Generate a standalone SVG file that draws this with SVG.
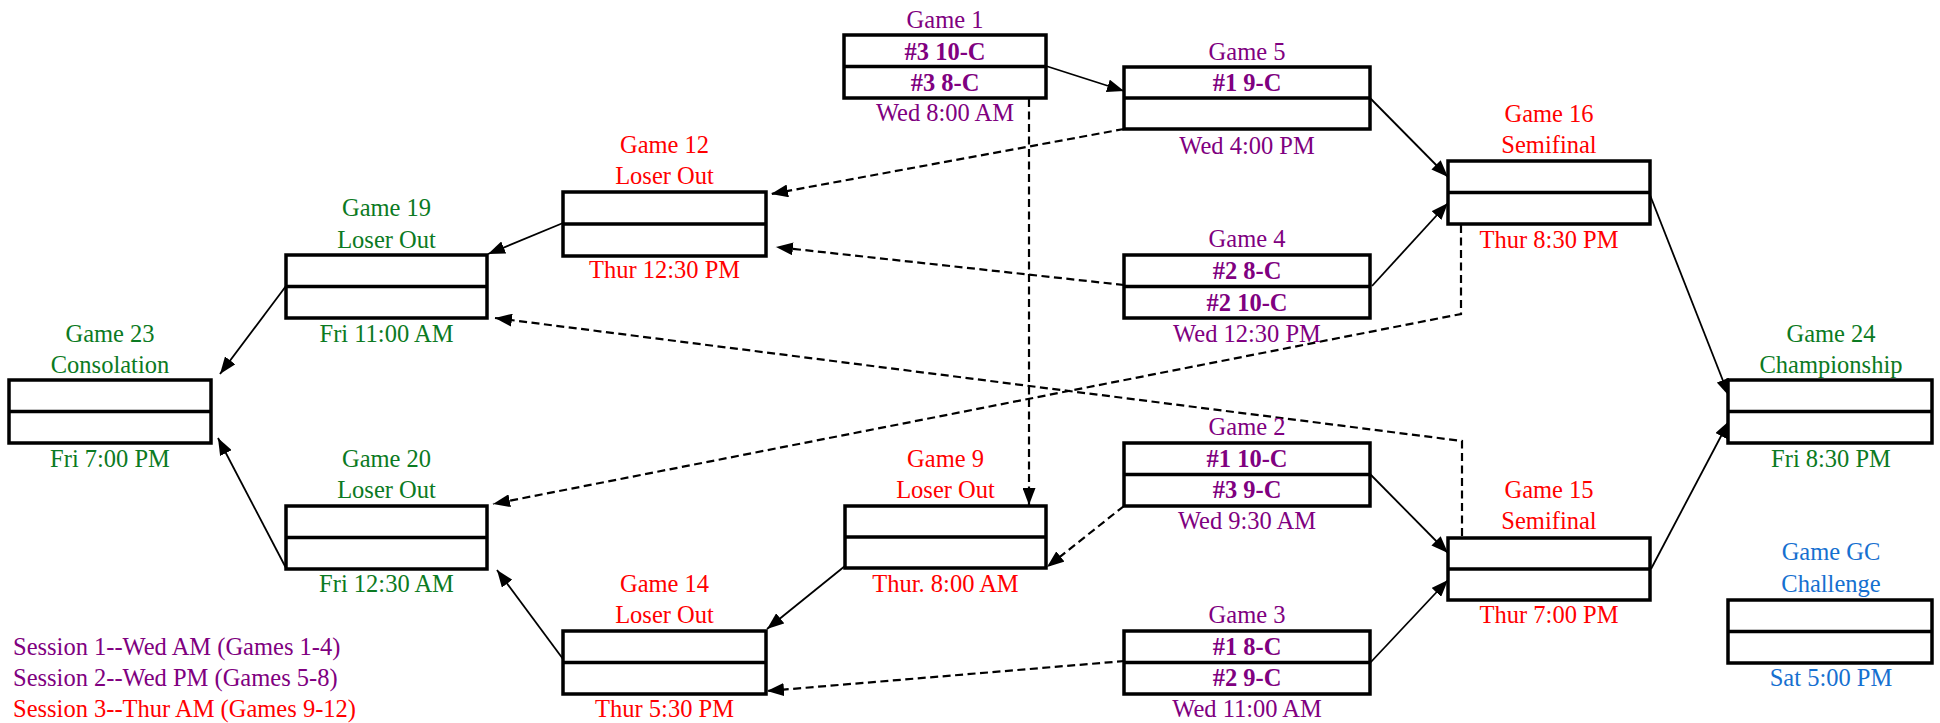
<svg xmlns="http://www.w3.org/2000/svg" width="1940" height="723" viewBox="0 0 1940 723">
<style>
text{font-family:"Liberation Serif","Times New Roman",serif;font-size:24.5px;text-anchor:middle}
.b{font-weight:bold}
.p{fill:#800080}.r{fill:#FF0000}.g{fill:#0B7A22}.bl{fill:#1670D0}
.box{fill:#fff;stroke:#000;stroke-width:3.5}
.dv{stroke:#000;stroke-width:3.5}
.c{fill:none;stroke:#000;stroke-width:1.8}
.d{fill:none;stroke:#000;stroke-width:2.2;stroke-dasharray:8 4.5}
.s{text-anchor:start}
</style>
<defs>
<marker id="ah" viewBox="0 0 17 13" refX="17" refY="6.5" markerWidth="17" markerHeight="13" markerUnits="userSpaceOnUse" orient="auto">
<path d="M0,0 L17,6.5 L0,13 z" fill="#000"/>
</marker>
</defs>
<rect width="1940" height="723" fill="#fff"/>
<g id="connectors">
<line class="c" x1="1046" y1="66" x2="1124" y2="91" marker-end="url(#ah)"/>
<line class="c" x1="1370" y1="98" x2="1448" y2="177" marker-end="url(#ah)"/>
<line class="c" x1="1372" y1="286" x2="1448" y2="203" marker-end="url(#ah)"/>
<line class="c" x1="1650" y1="195" x2="1729" y2="396" marker-end="url(#ah)"/>
<line class="c" x1="1651" y1="569" x2="1729" y2="421" marker-end="url(#ah)"/>
<line class="c" x1="1370" y1="474" x2="1448" y2="553" marker-end="url(#ah)"/>
<line class="c" x1="1370" y1="663" x2="1448" y2="580" marker-end="url(#ah)"/>
<line class="c" x1="563" y1="223" x2="488" y2="254" marker-end="url(#ah)"/>
<line class="c" x1="286" y1="286" x2="220" y2="374" marker-end="url(#ah)"/>
<line class="c" x1="286" y1="568" x2="218" y2="438" marker-end="url(#ah)"/>
<line class="c" x1="563" y1="659" x2="497" y2="570" marker-end="url(#ah)"/>
<line class="c" x1="845" y1="566" x2="767" y2="629" marker-end="url(#ah)"/>
<line class="d" x1="1124" y1="129" x2="771" y2="194" marker-end="url(#ah)"/>
<line class="d" x1="1124" y1="285" x2="776" y2="247" marker-end="url(#ah)"/>
<line class="d" x1="1029" y1="99" x2="1029" y2="505" marker-end="url(#ah)"/>
<polyline class="d" points="1461,225 1461,314 493,504" marker-end="url(#ah)"/>
<polyline class="d" points="1462,536 1462,441 495,318" marker-end="url(#ah)"/>
<line class="d" x1="1124" y1="506" x2="1047" y2="567" marker-end="url(#ah)"/>
<line class="d" x1="1125" y1="661" x2="767" y2="691" marker-end="url(#ah)"/>
</g>
<g id="game1">
<rect class="box" x="844" y="35" width="202" height="63"/><line class="dv" x1="844" y1="66.5" x2="1046" y2="66.5"/>
<text class="p" x="945" y="28">Game 1</text>
<text class="p b" x="945" y="60">#3 10-C</text>
<text class="p b" x="945" y="91">#3 8-C</text>
<text class="p" x="945" y="121">Wed 8:00 AM</text>
</g>
<g id="game5">
<rect class="box" x="1124" y="67" width="246" height="62"/><line class="dv" x1="1124" y1="98" x2="1370" y2="98"/>
<text class="p" x="1247" y="60">Game 5</text>
<text class="p b" x="1247" y="91">#1 9-C</text>
<text class="p" x="1247" y="154">Wed 4:00 PM</text>
</g>
<g id="game16">
<rect class="box" x="1448" y="161" width="202" height="63"/><line class="dv" x1="1448" y1="192.5" x2="1650" y2="192.5"/>
<text class="r" x="1549" y="122">Game 16</text>
<text class="r" x="1549" y="153">Semifinal</text>
<text class="r" x="1549" y="248">Thur 8:30 PM</text>
</g>
<g id="game4">
<rect class="box" x="1124" y="255" width="246" height="63"/><line class="dv" x1="1124" y1="286.5" x2="1370" y2="286.5"/>
<text class="p" x="1247" y="247">Game 4</text>
<text class="p b" x="1247" y="279">#2 8-C</text>
<text class="p b" x="1247" y="311">#2 10-C</text>
<text class="p" x="1247" y="342">Wed 12:30 PM</text>
</g>
<g id="game12">
<rect class="box" x="563" y="192" width="203" height="64"/><line class="dv" x1="563" y1="224" x2="766" y2="224"/>
<text class="r" x="664.5" y="153">Game 12</text>
<text class="r" x="664.5" y="184">Loser Out</text>
<text class="r" x="664.5" y="278">Thur 12:30 PM</text>
</g>
<g id="game19">
<rect class="box" x="286" y="255" width="201" height="63"/><line class="dv" x1="286" y1="286.5" x2="487" y2="286.5"/>
<text class="g" x="386.5" y="216">Game 19</text>
<text class="g" x="386.5" y="248">Loser Out</text>
<text class="g" x="386.5" y="342">Fri 11:00 AM</text>
</g>
<g id="game23">
<rect class="box" x="9" y="380" width="202" height="63"/><line class="dv" x1="9" y1="411.5" x2="211" y2="411.5"/>
<text class="g" x="110" y="342">Game 23</text>
<text class="g" x="110" y="373">Consolation</text>
<text class="g" x="110" y="467">Fri 7:00 PM</text>
</g>
<g id="game20">
<rect class="box" x="286" y="506" width="201" height="63"/><line class="dv" x1="286" y1="537.5" x2="487" y2="537.5"/>
<text class="g" x="386.5" y="467">Game 20</text>
<text class="g" x="386.5" y="498">Loser Out</text>
<text class="g" x="386.5" y="592">Fri 12:30 AM</text>
</g>
<g id="game14">
<rect class="box" x="563" y="631" width="203" height="63"/><line class="dv" x1="563" y1="662.5" x2="766" y2="662.5"/>
<text class="r" x="664.5" y="592">Game 14</text>
<text class="r" x="664.5" y="623">Loser Out</text>
<text class="r" x="664.5" y="717">Thur 5:30 PM</text>
</g>
<g id="game9">
<rect class="box" x="845" y="506" width="201" height="62"/><line class="dv" x1="845" y1="537" x2="1046" y2="537"/>
<text class="r" x="945.5" y="467">Game 9</text>
<text class="r" x="945.5" y="498">Loser Out</text>
<text class="r" x="945.5" y="592">Thur. 8:00 AM</text>
</g>
<g id="game2">
<rect class="box" x="1124" y="443" width="246" height="63"/><line class="dv" x1="1124" y1="474.5" x2="1370" y2="474.5"/>
<text class="p" x="1247" y="435">Game 2</text>
<text class="p b" x="1247" y="467">#1 10-C</text>
<text class="p b" x="1247" y="498">#3 9-C</text>
<text class="p" x="1247" y="529">Wed 9:30 AM</text>
</g>
<g id="game15">
<rect class="box" x="1448" y="538" width="202" height="62"/><line class="dv" x1="1448" y1="569" x2="1650" y2="569"/>
<text class="r" x="1549" y="498">Game 15</text>
<text class="r" x="1549" y="529">Semifinal</text>
<text class="r" x="1549" y="623">Thur 7:00 PM</text>
</g>
<g id="game3">
<rect class="box" x="1124" y="631" width="246" height="63"/><line class="dv" x1="1124" y1="662.5" x2="1370" y2="662.5"/>
<text class="p" x="1247" y="623">Game 3</text>
<text class="p b" x="1247" y="655">#1 8-C</text>
<text class="p b" x="1247" y="686">#2 9-C</text>
<text class="p" x="1247" y="717">Wed 11:00 AM</text>
</g>
<g id="game24">
<rect class="box" x="1728" y="380" width="204" height="63"/><line class="dv" x1="1728" y1="411.5" x2="1932" y2="411.5"/>
<text class="g" x="1831" y="342">Game 24</text>
<text class="g" x="1831" y="373">Championship</text>
<text class="g" x="1831" y="467">Fri 8:30 PM</text>
</g>
<g id="gameGC">
<rect class="box" x="1728" y="600" width="204" height="63"/><line class="dv" x1="1728" y1="631.5" x2="1932" y2="631.5"/>
<text class="bl" x="1831" y="560">Game GC</text>
<text class="bl" x="1831" y="592">Challenge</text>
<text class="bl" x="1831" y="686">Sat 5:00 PM</text>
</g>
<g id="legend">
<text class="p s" x="13" y="655">Session 1--Wed AM (Games 1-4)</text>
<text class="p s" x="13" y="686">Session 2--Wed PM (Games 5-8)</text>
<text class="r s" x="13" y="717">Session 3--Thur AM (Games 9-12)</text>
</g>
</svg>
